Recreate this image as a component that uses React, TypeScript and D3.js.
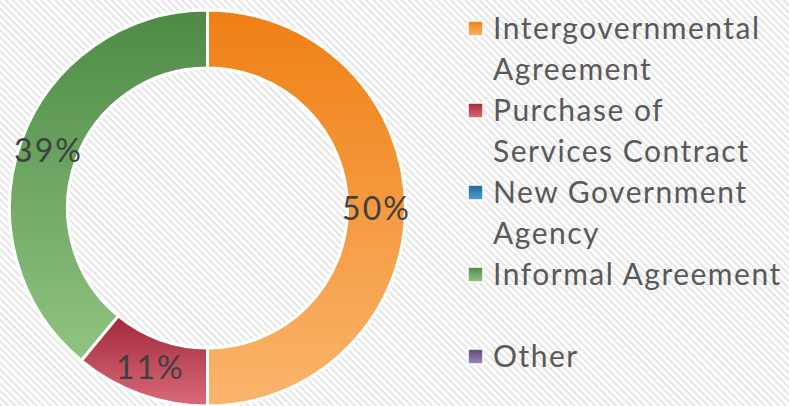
import React from "react";
import * as d3 from "d3";

const categories = [
  "Intergovernmental Agreement",
  "Purchase of Services Contract",
  "New Government Agency",
  "Informal Agreement",
  "Other",
];
const values = [50, 11, 0, 39, 0];
const legendLines = [
  ["Intergovernmental", "Agreement"],
  ["Purchase of", "Services Contract"],
  ["New Government", "Agency"],
  ["Informal Agreement", ""],
  ["Other"],
];
const colorsTop = ["#ef7f14", "#a1283a", "#1f6a99", "#4e8a46", "#5f4a7f"];
const colorsBottom = ["#fab56c", "#da6a7b", "#4ba0d3", "#90c483", "#9b86b8"];

const W = 789;
const H = 406;
const cx = 207.5;
const cy = 208;
const outerR = 198;
const innerR = 140;
const FONT = "Lato, 'Open Sans', sans-serif";

export default function App() {
  const pie = d3
    .pie<number>()
    .sort(null)
    .value((d) => d);
  const arcs = pie(values);
  const arc = d3.arc<d3.PieArcDatum<number>>().innerRadius(innerR).outerRadius(outerR);
  const total = d3.sum(values);
  const fmt = (v: number) => `${Math.round((v / total) * 100)}%`;

  const legendX = 468;
  const lineH = 41;
  const firstBaseline = 39;
  let lineIdx = 0;

  return (
    <svg
      width={W}
      height={H}
      style={{ position: "absolute", left: 0, top: 0, display: "block" }}
    >
      <defs>
        <pattern
          id="hatch"
          width={5}
          height={5}
          patternUnits="userSpaceOnUse"
          patternTransform="rotate(45)"
        >
          <rect width={5} height={5} fill="#ffffff" />
          <rect width={5} height={2.2} fill="#e6e6e6" />
        </pattern>
        {categories.map((c, i) => (
          <linearGradient key={c} id={`g${i}`} x1="0" y1="0" x2="0" y2="1">
            <stop offset="0" stopColor={colorsTop[i]} />
            <stop offset="1" stopColor={colorsBottom[i]} />
          </linearGradient>
        ))}
      </defs>
      <rect width={W} height={H} fill="url(#hatch)" />
      <g transform={`translate(${cx},${cy})`}>
        {arcs.map((a, i) =>
          a.value > 0 ? (
            <path
              key={i}
              d={arc(a) || ""}
              fill={`url(#g${i})`}
              stroke="#ffffff"
              strokeWidth={3}
              strokeLinejoin="round"
            />
          ) : null
        )}
        {arcs.map((a, i) => {
          if (a.value <= 0) return null;
          const [x, y] = arc.centroid(a);
          return (
            <text
              key={`l${i}`}
              x={x}
              y={y}
              dy="0.36em"
              textAnchor="middle"
              fontFamily={FONT}
              fontSize={32}
              letterSpacing={2}
              fill="#404040"
            >
              {fmt(a.value)}
            </text>
          );
        })}
      </g>
      {categories.map((c, i) => {
        const start = lineIdx;
        lineIdx += legendLines[i].length;
        const baseline = firstBaseline + start * lineH;
        return (
          <g key={`lg${i}`}>
            <rect
              x={legendX}
              y={baseline - 18}
              width={15}
              height={15}
              fill={`url(#g${i})`}
              stroke="#ffffff"
              strokeWidth={1.5}
            />
            {legendLines[i].map((t, j) => (
              <text
                key={j}
                x={493}
                y={baseline + j * lineH}
                fontFamily={FONT}
                fontSize={30}
                letterSpacing={1.5}
                fill="#595959"
              >
                {t}
              </text>
            ))}
          </g>
        );
      })}
    </svg>
  );
}
